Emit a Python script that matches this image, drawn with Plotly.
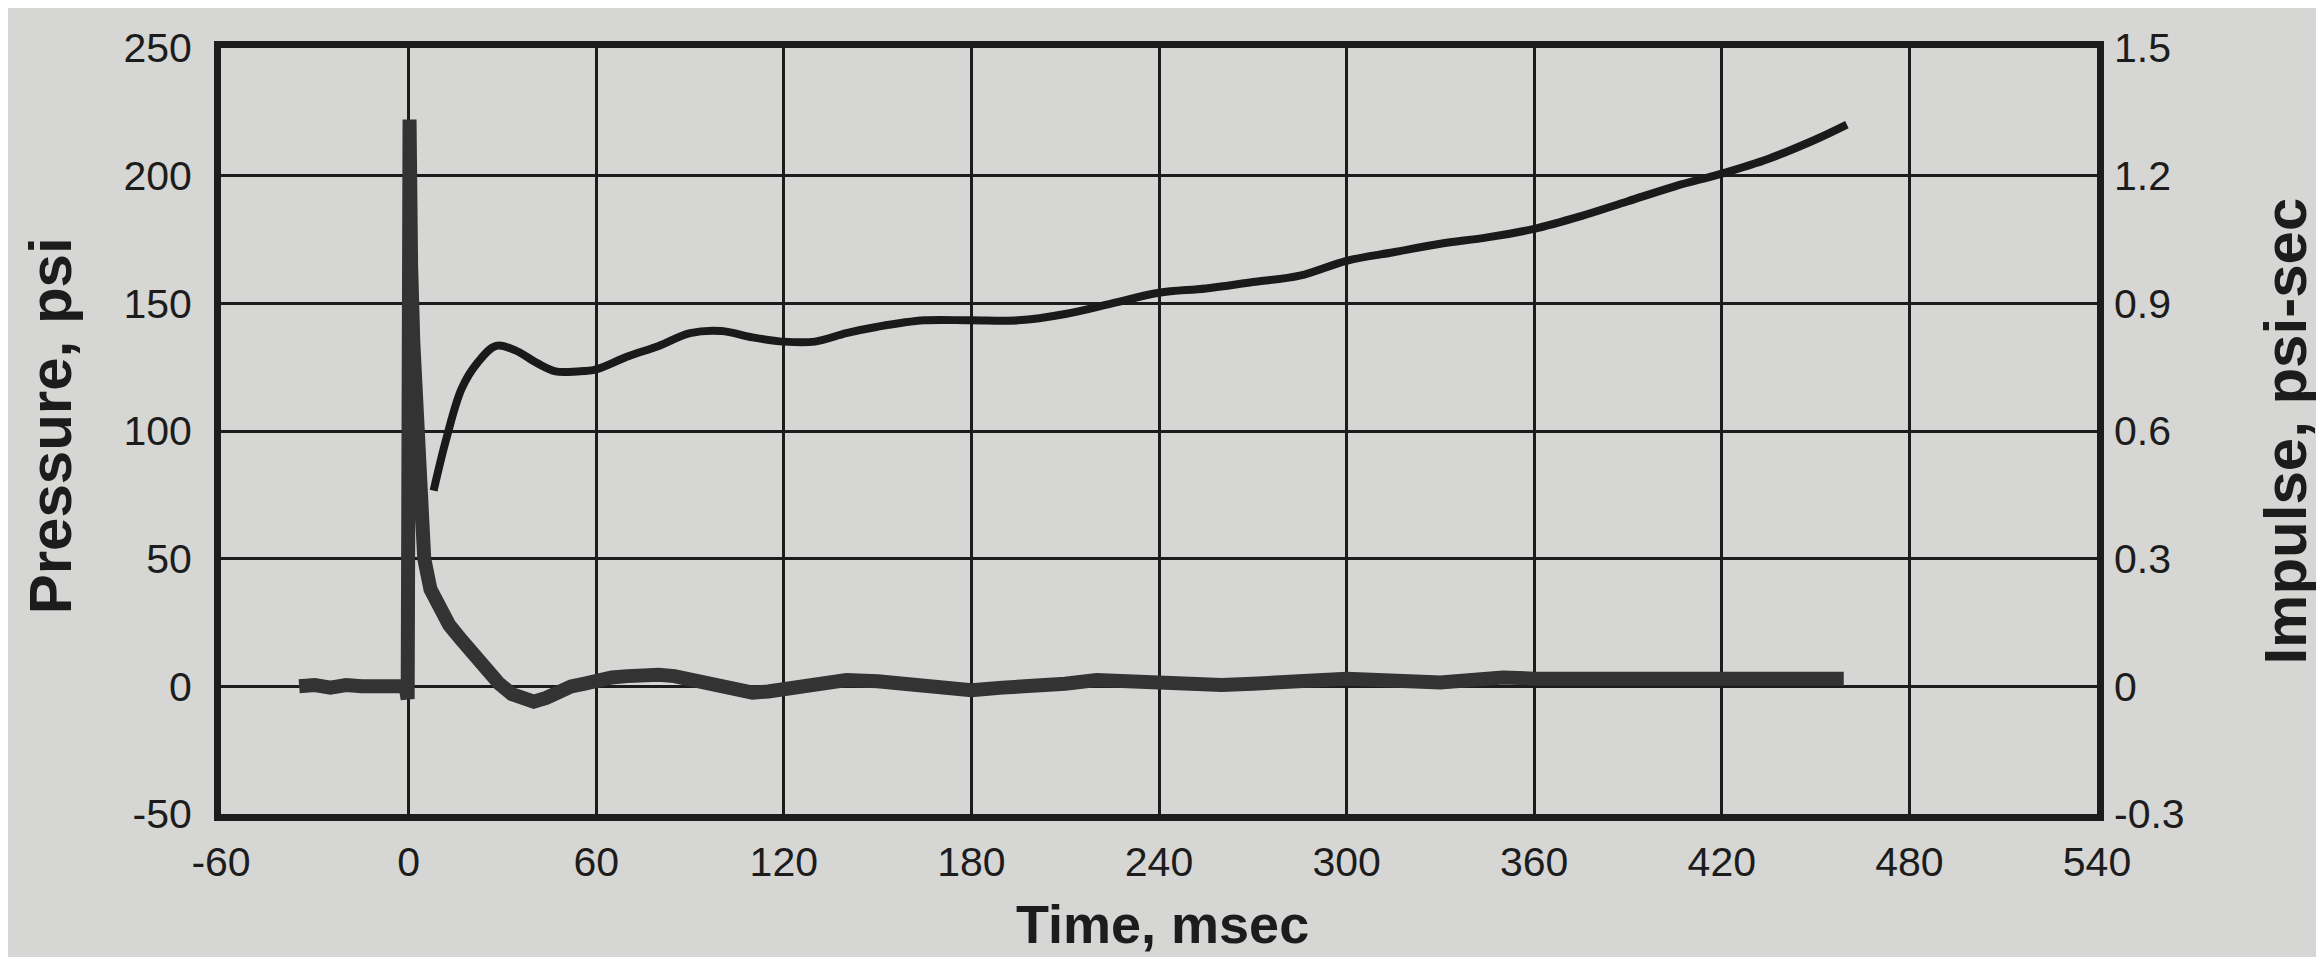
import plotly.graph_objects as go

# ---------------- data ----------------
time_pressure = [-35, -30, -25, -20, -15, -10, -5, -1, -0.3, 0.3, 0.8, 1.5, 2.5, 3.5, 5, 7,
                 10, 13, 17, 21, 25, 29, 33, 37, 40, 44, 48, 52, 56, 60, 65, 70, 75, 80,
                 85, 90, 95, 100, 105, 110, 115, 120, 125, 130, 135, 140, 150, 160, 170,
                 180, 190, 200, 210, 220, 230, 240, 250, 260, 270, 280, 290, 300, 310,
                 320, 330, 340, 350, 360, 370, 380, 390, 400, 410, 420, 430, 440, 450, 459]
pressure_psi = [0, 0.5, -0.5, 0.5, 0, 0, 0.5, 0, -5, 222, 165, 135, 100, 70, 50, 38,
                30, 24, 18, 12, 6, 1, -3, -5.5, -6, -4.5, -1.5, 0, 1, 2.5, 3.5, 4, 4.5, 4.5,
                4, 2.5, 1, -0.5, -1.5, -2.5, -2, -1, 0, 1.5, 2.5, 2.5, 2, 1, -1,
                -1.5, -0.5, 0, 1, 2.5, 2, 1, 0.5, 0.5, 1, 2, 2.5, 3, 2.5,
                2, 1.5, 2.5, 3.5, 3, 3, 2.5, 2, 2.5, 2.5, 3, 3, 3, 3, 3]

time_impulse = [8, 12, 17, 22, 28, 34, 41, 47, 54, 60, 70, 80, 90, 100, 110, 120, 130,
                140, 150, 165, 180, 195, 210, 225, 240, 255, 270, 285, 300, 315, 330,
                345, 360, 375, 390, 405, 420, 435, 450, 460]
impulse_psisec = [0.46, 0.58, 0.70, 0.76, 0.80, 0.79, 0.76, 0.74, 0.74, 0.745, 0.775,
                  0.80, 0.83, 0.835, 0.82, 0.81, 0.81, 0.83, 0.845, 0.86, 0.86, 0.86,
                  0.875, 0.90, 0.925, 0.935, 0.95, 0.965, 1.0, 1.02, 1.04, 1.055, 1.075,
                  1.105, 1.14, 1.175, 1.205, 1.24, 1.285, 1.32]

x_ticks = [-60, 0, 60, 120, 180, 240, 300, 360, 420, 480, 540]
x_tick_text = ["-60", "0", "60", "120", "180", "240", "300", "360", "420", "480", "540"]
y_ticks = [-50, 0, 50, 100, 150, 200, 250]
y_tick_text = ["-50", "0", "50", "100", "150", "200", "250"]
y2_ticks = [-0.3, 0, 0.3, 0.6, 0.9, 1.2, 1.5]
y2_tick_text = ["-0.3", "0", "0.3", "0.6", "0.9", "1.2", "1.5"]

x_title = "Time, msec"
y_title = "Pressure, psi"
y2_title = "Impulse, psi-sec"

# ---------------- styling ----------------
BG = "#d6d6d4"
INK = "#1c1c1c"
FONT = "Liberation Sans, Arial, sans-serif"
TICK_SIZE = 41
TITLE_SIZE = 60

fig = go.Figure()
fig.add_trace(go.Scatter(x=time_pressure, y=pressure_psi, mode="lines",
                         line=dict(color="#333333", width=14),
                         showlegend=False, yaxis="y"))
fig.add_trace(go.Scatter(x=time_impulse, y=impulse_psisec, mode="lines",
                         line=dict(color="#1a1a1a", width=8, shape="spline"),
                         showlegend=False, yaxis="y2"))

axis_common = dict(showline=True, linecolor=INK, linewidth=7, mirror=True,
                   gridcolor=INK, gridwidth=3, showgrid=True, zeroline=False,
                   ticks="", tickfont=dict(family=FONT, size=TICK_SIZE, color=INK))

fig.update_layout(
    width=2324, height=957,
    paper_bgcolor=BG, plot_bgcolor=BG,
    margin=dict(l=213, r=235, t=40, b=151),
    xaxis=dict(range=[-60, 540], tickvals=x_ticks, ticktext=x_tick_text,
               ticklabelstandoff=6, **axis_common),
    yaxis=dict(range=[-50, 250], tickvals=y_ticks, ticktext=y_tick_text,
               ticklabelstandoff=14, **axis_common),
    yaxis2=dict(range=[-0.3, 1.5], tickvals=y2_ticks, ticktext=y2_tick_text,
                overlaying="y", side="right", showgrid=False, zeroline=False,
                showline=False, ticks="", ticklabelstandoff=16,
                tickfont=dict(family=FONT, size=TICK_SIZE, color=INK)),
    annotations=[
        dict(text=f"<b>{x_title}</b>", xref="paper", yref="paper", x=0.502, y=-0.143,
             xanchor="center", yanchor="middle", showarrow=False, borderpad=0,
             font=dict(family=FONT, size=54, color=INK)),
        dict(text=f"<b>{y_title}</b>", xref="paper", yref="paper", x=-0.091, y=0.5065,
             xanchor="center", yanchor="middle", textangle=-90, showarrow=False,
             borderpad=0, font=dict(family=FONT, size=TITLE_SIZE, color=INK)),
        dict(text=f"<b>{y2_title}</b>", xref="paper", yref="paper", x=1.100, y=0.50,
             xanchor="center", yanchor="middle", textangle=-90, showarrow=False,
             borderpad=0, font=dict(family=FONT, size=TITLE_SIZE, color=INK)),
    ],
)

fig.write_html("out.html")
